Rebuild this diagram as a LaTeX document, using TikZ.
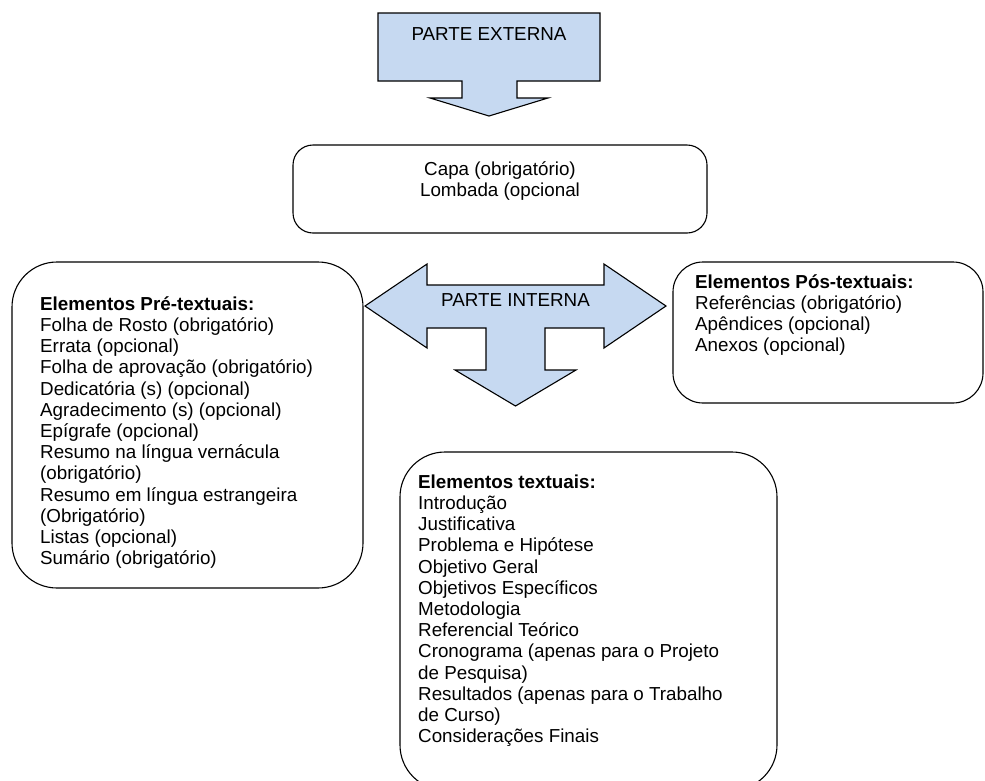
\documentclass[tikz,border=0pt]{standalone}
\usepackage{fontspec}
\setmainfont{Liberation Sans}
\definecolor{arrowblue}{HTML}{C6D9F1}
\begin{document}
\begin{tikzpicture}[x=1pt,y=-1pt,
  every node/.style={inner sep=0pt, font=\fontsize{18.8}{21.2}\selectfont},
  shapearrow/.style={draw=black, fill=arrowblue, line width=1.1pt, line join=miter},
  infobox/.style={draw=black, line width=1.1pt, rectangle},
  listtext/.style={anchor=north west, align=left}]
\useasboundingbox (0,0) rectangle (985,780);
\clip (0,0) rectangle (985,780);
% top arrow
\draw[shapearrow] (378,13) -- (600,13) -- (600,81) -- (517,81) -- (517,98) -- (548,98)
  -- (489,116) -- (430,98) -- (462,98) -- (462,81) -- (378,81) -- cycle;
\node[anchor=base] (ext) at (489,40) {PARTE EXTERNA};
% capa box
\node[infobox, rounded corners=20pt, minimum width=414pt, minimum height=88pt] (capa) at (500,189) {};
\node[anchor=north, align=center] (capatxt) at (500,160.2) {\strut Capa (obrigatório)\\\strut Lombada (opcional};
% quad arrow
\draw[shapearrow] (365,306) -- (427,264) -- (427,285) -- (604,285) -- (604,264) -- (666,306)
  -- (604,348) -- (604,328) -- (545,328) -- (545,370) -- (576,370) -- (515.5,406)
  -- (455,370) -- (486,370) -- (486,328) -- (427,328) -- (427,348) -- cycle;
\node[anchor=base] (int) at (515.5,306) {PARTE INTERNA};
% left box
\node[infobox, rounded corners=45pt, minimum width=351pt, minimum height=326pt] (pre) at (187.5,425) {};
\node[listtext] (pretxt) at (40,295.2) {\strut\textbf{Elementos Pré-textuais:}\\
\strut Folha de Rosto (obrigatório)\\
\strut Errata (opcional)\\
\strut Folha de aprovação (obrigatório)\\
\strut Dedicatória (s) (opcional)\\
\strut Agradecimento (s) (opcional)\\
\strut Epígrafe (opcional)\\
\strut Resumo na língua vernácula\\
\strut (obrigatório)\\
\strut Resumo em língua estrangeira\\
\strut (Obrigatório)\\
\strut Listas (opcional)\\
\strut Sumário (obrigatório)};
% right box
\node[infobox, rounded corners=30pt, minimum width=310pt, minimum height=141pt] (pos) at (828,332.5) {};
\node[listtext] (postxt) at (695,273.2) {\strut\textbf{Elementos Pós-textuais:}\\
\strut Referências (obrigatório)\\
\strut Apêndices (opcional)\\
\strut Anexos (opcional)};
% bottom box
\node[infobox, rounded corners=45pt, minimum width=377pt, minimum height=338pt] (txt) at (588.5,621) {};
\node[listtext] (txttxt) at (418,473.2) {\strut\textbf{Elementos textuais:}\\
\strut Introdução\\
\strut Justificativa\\
\strut Problema e Hipótese\\
\strut Objetivo Geral\\
\strut Objetivos Específicos\\
\strut Metodologia\\
\strut Referencial Teórico\\
\strut Cronograma (apenas para o Projeto\\
\strut de Pesquisa)\\
\strut Resultados (apenas para o Trabalho\\
\strut de Curso)\\
\strut Considerações Finais};
\end{tikzpicture}
\end{document}
